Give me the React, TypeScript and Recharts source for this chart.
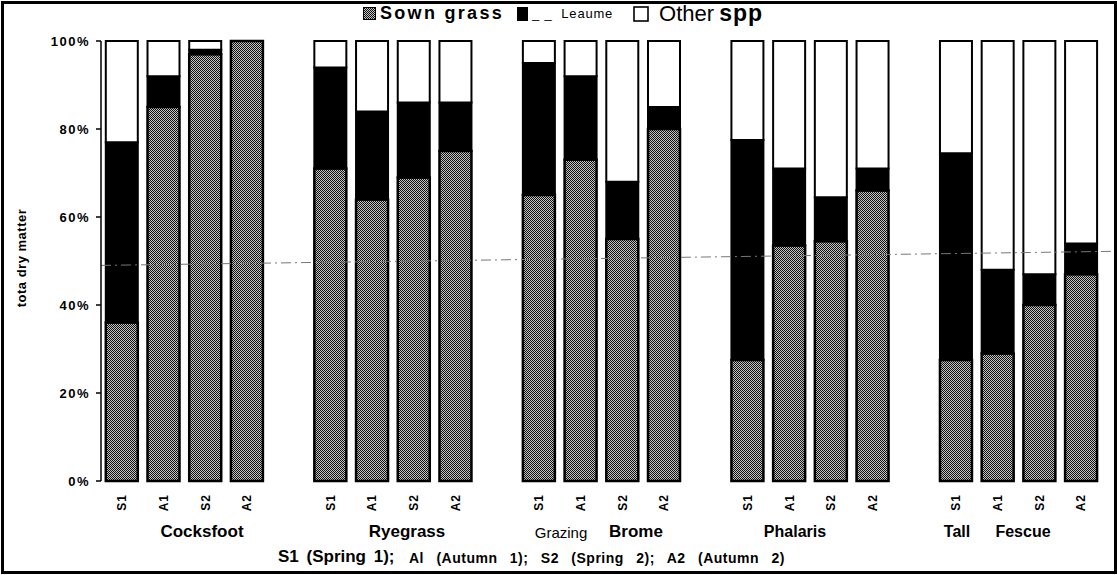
import { BarChart, Bar, XAxis, YAxis, ReferenceLine } from "recharts";

const groups = ["Cocksfoot", "Ryegrass", "Grazing Brome", "Phalaris", "Tall Fescue"];
const seasons = ["S1", "A1", "S2", "A2"];

// % of total dry matter, per group, in season order S1 A1 S2 A2
const sownGrass = [
  [36, 85, 97, 100],
  [71, 64, 69, 75],
  [65, 73, 55, 80],
  [27.5, 53.5, 54.5, 66],
  [27.5, 29, 40, 47],
];
const legume = [
  [41, 7, 1, 0],
  [23, 20, 17, 11],
  [30, 19, 13, 5],
  [50, 17.5, 10, 5],
  [47, 19, 7, 7],
];
const otherSpp = [
  [23, 8, 2, 0],
  [6, 16, 14, 14],
  [5, 8, 32, 15],
  [22.5, 29, 35.5, 29],
  [25.5, 52, 53, 46],
];
const yTicks = [0, 20, 40, 60, 80, 100];

// one empty category between groups
const rows: any[] = [];
groups.forEach((g, gi) => {
  seasons.forEach((s, si) => {
    rows.push({
      key: `${g}-${s}`,
      label: s,
      sown: sownGrass[gi][si],
      legume: legume[gi][si],
      other: otherSpp[gi][si],
    });
  });
  if (gi < groups.length - 1) rows.push({ key: `gap-${gi}`, label: "" });
});
const edgeTicks = rows.map((_, i) => i).concat([rows.length]);
const labelOf: Record<string, string> = {};
rows.forEach((r) => (labelOf[r.key] = r.label));

const font = '"Liberation Sans", Arial, sans-serif';

const SeasonTick = (props: any) => {
  const { x, y, payload } = props;
  const text = labelOf[payload.value];
  if (!text) return null;
  return (
    <text
      x={x}
      y={y + 5}
      transform={`rotate(-90, ${x}, ${y + 5})`}
      textAnchor="end"
      dy="0.36em"
      fontSize={12}
      fontWeight="bold"
      fontFamily={font}
      letterSpacing={1}
      fill="#000"
    >
      {text}
    </text>
  );
};

const EdgeTick = () => <g />;

const groupLabels = [
  { text: "Cocksfoot", x: 202, size: 17, bold: true },
  { text: "Ryegrass", x: 407, size: 17, bold: true },
  { text: "Grazing", x: 561, size: 15, bold: false },
  { text: "Brome", x: 636, size: 17, bold: true },
  { text: "Phalaris", x: 795, size: 16, bold: true },
  { text: "Tall", x: 957, size: 16, bold: true },
  { text: "Fescue", x: 1023, size: 16, bold: true },
];

export default function App() {
  return (
    <div style={{ position: "fixed", left: 0, top: 0, width: 1117, height: 575, background: "#fff" }}>
      <BarChart
        width={1117}
        height={575}
        data={rows}
        margin={{ top: 41, right: 15, left: 41, bottom: 64 }}
        barCategoryGap="11.5%"
      >
        <defs>
          <pattern id="sownPattern" width={2} height={2} patternUnits="userSpaceOnUse">
            <rect width={2} height={2} fill="#c4c4c4" />
            <rect x={0} y={0} width={1} height={1} fill="#111" />
            <rect x={1} y={1} width={1} height={1} fill="#111" />
          </pattern>
        </defs>
        <XAxis
          xAxisId="edge"
          type="number"
          domain={[0, rows.length]}
          ticks={edgeTicks}
          tick={<EdgeTick />}
          tickLine={{ stroke: "#000", strokeWidth: 1.5 }}
          tickSize={6}
          height={0}
          stroke="#000"
          strokeWidth={1.5}
          allowDataOverflow
        />
        <XAxis
          xAxisId="cat"
          dataKey="key"
          height={30}
          tick={<SeasonTick />}
          tickLine={false}
          axisLine={false}
          interval={0}
        />
        <YAxis
          width={60}
          domain={[0, 100]}
          ticks={yTicks}
          tickFormatter={(v) => `${v}%`}
          tick={{ fontSize: 13, fontWeight: "bold", fill: "#000", fontFamily: font, letterSpacing: 1.5 }}
          tickSize={5}
          tickMargin={6}
          stroke="#000"
          strokeWidth={1.5}
        />
        <Bar xAxisId="cat" dataKey="sown" name="Sown grass" stackId="a" fill="url(#sownPattern)" stroke="#000" strokeWidth={2.5} isAnimationActive={false} />
        <Bar xAxisId="cat" dataKey="legume" name="Leaume" stackId="a" fill="#000" stroke="#000" strokeWidth={2} isAnimationActive={false} />
        <Bar xAxisId="cat" dataKey="other" name="Other spp" stackId="a" fill="#fff" stroke="#000" strokeWidth={2} isAnimationActive={false} />
        <ReferenceLine
          xAxisId="edge"
          segment={[{ x: 0, y: 49 }, { x: rows.length, y: 52.3 }]}
          stroke="#777"
          strokeWidth={1}
          strokeDasharray="10 4 2 4"
          ifOverflow="visible"
        />
      </BarChart>

      {/* legend */}
      <div
        style={{
          position: "absolute",
          left: 363,
          top: 0,
          display: "flex",
          alignItems: "center",
          fontFamily: font,
          color: "#000",
          whiteSpace: "nowrap",
        }}
      >
        <svg width={13} height={13} style={{ marginRight: 4 }}>
          <rect x={0.5} y={0.5} width={12} height={12} fill="url(#sownPattern)" stroke="#000" />
        </svg>
        <span style={{ fontSize: 18, fontWeight: "bold", letterSpacing: 2.3 }}>Sown grass</span>
        <svg width={11} height={14} style={{ marginLeft: 13 }}>
          <rect x={0} y={0} width={11} height={14} fill="#000" />
        </svg>
        <span style={{ fontSize: 13, marginLeft: 4, letterSpacing: 0.8 }}>_ _ &nbsp;Leaume</span>
        <svg width={16} height={16} style={{ marginLeft: 20 }}>
          <rect x={1} y={1} width={14} height={14} fill="#fff" stroke="#000" strokeWidth={1.6} />
        </svg>
        <span style={{ fontSize: 22, marginLeft: 10 }}>Other</span>
        <span style={{ fontSize: 23, fontWeight: "bold", marginLeft: 5, letterSpacing: 1 }}>spp</span>
      </div>

      <div
        style={{
          position: "absolute",
          left: 21,
          top: 258,
          transform: "translate(-50%, -50%) rotate(-90deg)",
          fontFamily: font,
          fontSize: 13,
          fontWeight: "bold",
          letterSpacing: 0.5,
          whiteSpace: "nowrap",
        }}
      >
        tota dry matter
      </div>

      {groupLabels.map((g) => (
        <div
          key={g.text}
          style={{
            position: "absolute",
            left: g.x,
            top: 532,
            transform: "translate(-50%, -50%)",
            fontFamily: font,
            fontSize: g.size,
            fontWeight: g.bold ? "bold" : "normal",
            whiteSpace: "nowrap",
          }}
        >
          {g.text}
        </div>
      ))}

      <div
        style={{
          position: "absolute",
          left: 278,
          top: 557,
          transform: "translateY(-50%)",
          fontFamily: font,
          fontWeight: "bold",
          fontSize: 17,
          wordSpacing: 3,
          whiteSpace: "nowrap",
        }}
      >
        S1 (Spring 1);
      </div>
      <div
        style={{
          position: "absolute",
          left: 409,
          top: 558,
          transform: "translateY(-50%)",
          fontFamily: font,
          fontWeight: "bold",
          fontSize: 14,
          wordSpacing: 8,
          letterSpacing: 0.5,
          whiteSpace: "nowrap",
        }}
      >
        Al (Autumn 1); S2 (Spring 2); A2 (Autumn 2)
      </div>

      <div
        style={{
          position: "absolute",
          left: 1,
          top: 1,
          width: 1110,
          height: 567,
          border: "3px solid #000",
          pointerEvents: "none",
        }}
      />
    </div>
  );
}
